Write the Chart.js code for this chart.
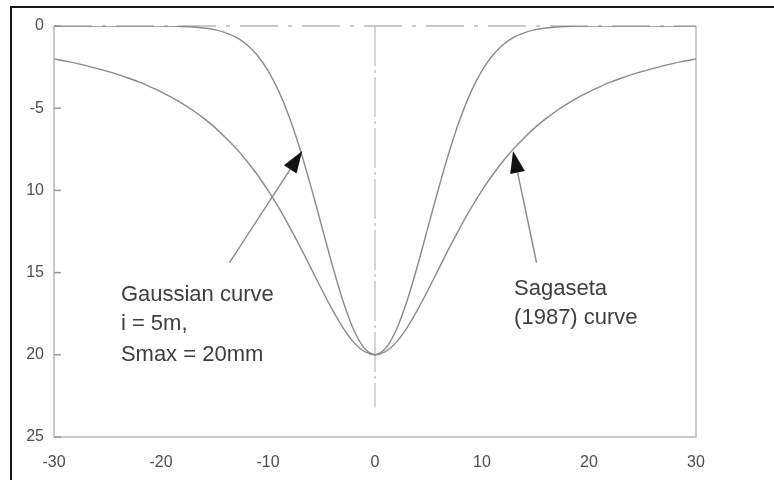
<!DOCTYPE html>
<html>
<head>
<meta charset="utf-8">
<script src="https://cdn.jsdelivr.net/npm/chart.js@4/dist/chart.umd.min.js"></script>
<style>
  html, body { margin: 0; padding: 0; background: #fff; }
  #wrap { position: relative; width: 774px; height: 480px; overflow: hidden; }
  #frame { position: absolute; left: 10px; top: 6px; width: 800px; height: 520px;
           border-left: 2px solid #161616; border-top: 2px solid #161616; box-sizing: border-box; }
  canvas { position: absolute; left: 0; top: 0; }
</style>
</head>
<body>
<div id="wrap">
  <div id="frame"></div>
  <canvas id="c" width="774" height="480"></canvas>
</div>
<script>
// ---- data ----
const xValues = [-30,-29,-28,-27,-26,-25,-24,-23,-22,-21,-20,-19,-18,-17,-16,-15,-14,-13,-12,-11,-10,-9,-8,-7,-6,-5,-4,-3,-2,-1,
  0,1,2,3,4,5,6,7,8,9,10,11,12,13,14,15,16,17,18,19,20,21,22,23,24,25,26,27,28,29,30];
const gaussianSettlement = [0,0,0,0,0,0,0,0,0,0,
  0.01,0.01,0.03,0.06,0.12,0.22,0.40,0.68,1.12,1.78,2.71,3.96,5.56,7.51,9.74,12.13,14.52,16.71,18.46,19.60,
  20,
  19.60,18.46,16.71,14.52,12.13,9.74,7.51,5.56,3.96,2.71,1.78,1.12,0.68,0.40,0.22,0.12,0.06,0.03,0.01,0.01,
  0,0,0,0,0,0,0,0,0,0];
const sagasetaSettlement = [2.00,2.13,2.26,2.41,2.58,2.76,2.96,3.18,3.42,3.70,4.00,4.34,4.72,5.14,5.62,6.15,6.76,7.43,8.20,9.05,
  10.00,11.05,12.20,13.42,14.71,16.00,17.24,18.35,19.23,19.80,
  20,
  19.80,19.23,18.35,17.24,16.00,14.71,13.42,12.20,11.05,10.00,
  9.05,8.20,7.43,6.76,6.15,5.62,5.14,4.72,4.34,4.00,3.70,3.42,3.18,2.96,2.76,2.58,2.41,2.26,2.13,2.00];
const xTickValues = [-30,-20,-10,0,10,20,30];
const xTickLabels = ['-30','-20','-10','0','10','20','30'];
const yTickValues = [0,5,10,15,20,25];
const yTickLabels = ['0','-5','10','15','20','25'];
const gaussianLabel = ['Gaussian curve','i = 5m,','Smax = 20mm'];
const sagasetaLabel = ['Sagaseta','(1987) curve'];

const toPts = (ys) => xValues.map((x, i) => ({ x: x, y: ys[i] }));

const decor = {
  id: 'decor',
  beforeDatasetsDraw(chart) {
    const { ctx, chartArea: a, scales: { x, y } } = chart;
    ctx.save();
    // frame
    ctx.strokeStyle = '#b8b8b8';
    ctx.lineWidth = 1.5;
    ctx.beginPath();
    ctx.moveTo(a.left, a.top); ctx.lineTo(a.left, a.bottom); ctx.lineTo(a.right, a.bottom); ctx.lineTo(a.right, a.top);
    ctx.stroke();
    ctx.setLineDash([38, 10, 4, 10]);
    ctx.beginPath(); ctx.moveTo(a.left, a.top); ctx.lineTo(a.right, a.top); ctx.stroke();
    // centre line at x = 0
    ctx.setLineDash([40, 4, 3, 4]);
    ctx.strokeStyle = '#c8c8c8';
    ctx.beginPath(); ctx.moveTo(x.getPixelForValue(0), a.top); ctx.lineTo(x.getPixelForValue(0), y.getPixelForValue(23.2)); ctx.stroke();
    ctx.setLineDash([]);
    // inward y ticks
    ctx.strokeStyle = '#999';
    ctx.lineWidth = 1.5;
    yTickValues.forEach(v => {
      const py = y.getPixelForValue(v);
      ctx.beginPath(); ctx.moveTo(a.left, py); ctx.lineTo(a.left + 7, py); ctx.stroke();
    });
    ctx.restore();
  },
  afterDatasetsDraw(chart) {
    const { ctx, scales: { x, y } } = chart;
    ctx.save();
    const arrow = (x0, y0, x1, y1) => {
      const px0 = x.getPixelForValue(x0), py0 = y.getPixelForValue(y0);
      const px1 = x.getPixelForValue(x1), py1 = y.getPixelForValue(y1);
      const ang = Math.atan2(py1 - py0, px1 - px0);
      const L = 22, W = 7.5;
      const bx = px1 - L * Math.cos(ang), by = py1 - L * Math.sin(ang);
      ctx.strokeStyle = '#8a8a8a'; ctx.lineWidth = 1.4;
      ctx.beginPath(); ctx.moveTo(px0, py0); ctx.lineTo(bx, by); ctx.stroke();
      ctx.fillStyle = '#111';
      ctx.beginPath();
      ctx.moveTo(px1, py1);
      ctx.lineTo(bx + W * Math.sin(ang), by - W * Math.cos(ang));
      ctx.lineTo(bx - W * Math.sin(ang), by + W * Math.cos(ang));
      ctx.closePath(); ctx.fill();
    };
    arrow(-13.6, 14.4, -6.8, 7.6);
    arrow(15.1, 14.4, 12.9, 7.6);
    // annotation text
    ctx.fillStyle = '#3e3e3e';
    ctx.font = '22px "Liberation Sans", Arial, sans-serif';
    ctx.textBaseline = 'middle';
    ctx.textAlign = 'left';
    const gx = x.getPixelForValue(-23.75);
    [295, 324, 355].forEach((py, i) => ctx.fillText(gaussianLabel[i], gx, py));
    const sx = x.getPixelForValue(13.0);
    [289, 318].forEach((py, i) => ctx.fillText(sagasetaLabel[i], sx, py));
    ctx.restore();
  }
};

new Chart(document.getElementById('c'), {
  type: 'line',
  data: {
    datasets: [
      { label: 'Gaussian curve', data: toPts(gaussianSettlement), borderColor: '#8a8a8a', borderWidth: 1.4,
        pointRadius: 0, fill: false, tension: 0.3 },
      { label: 'Sagaseta (1987) curve', data: toPts(sagasetaSettlement), borderColor: '#8a8a8a', borderWidth: 1.4,
        pointRadius: 0, fill: false, tension: 0.3 }
    ]
  },
  options: {
    responsive: false,
    animation: false,
    layout: { padding: { left: 0, top: 26, right: 78, bottom: 0 } },
    plugins: { legend: { display: false }, tooltip: { enabled: false } },
    scales: {
      x: {
        type: 'linear', min: -30, max: 30,
        grid: { display: false, drawTicks: false }, border: { display: false },
        afterBuildTicks: (s) => { s.ticks = xTickValues.map(v => ({ value: v })); },
        afterFit: (s) => { s.height = 43; },
        ticks: { padding: 16, color: '#4e4e4e', font: { family: '"Liberation Sans", Arial, sans-serif', size: 16 },
                 maxRotation: 0, autoSkip: false,
                 callback: (v) => xTickLabels[xTickValues.indexOf(v)] }
      },
      y: {
        type: 'linear', min: 0, max: 25, reverse: true,
        grid: { display: false, drawTicks: false }, border: { display: false },
        afterBuildTicks: (s) => { s.ticks = yTickValues.map(v => ({ value: v })); },
        afterFit: (s) => { s.width = 54; },
        ticks: { padding: 10, color: '#4e4e4e', font: { family: '"Liberation Sans", Arial, sans-serif', size: 16 },
                 autoSkip: false,
                 callback: (v) => yTickLabels[yTickValues.indexOf(v)] }
      }
    }
  },
  plugins: [decor]
});
</script>
</body>
</html>
